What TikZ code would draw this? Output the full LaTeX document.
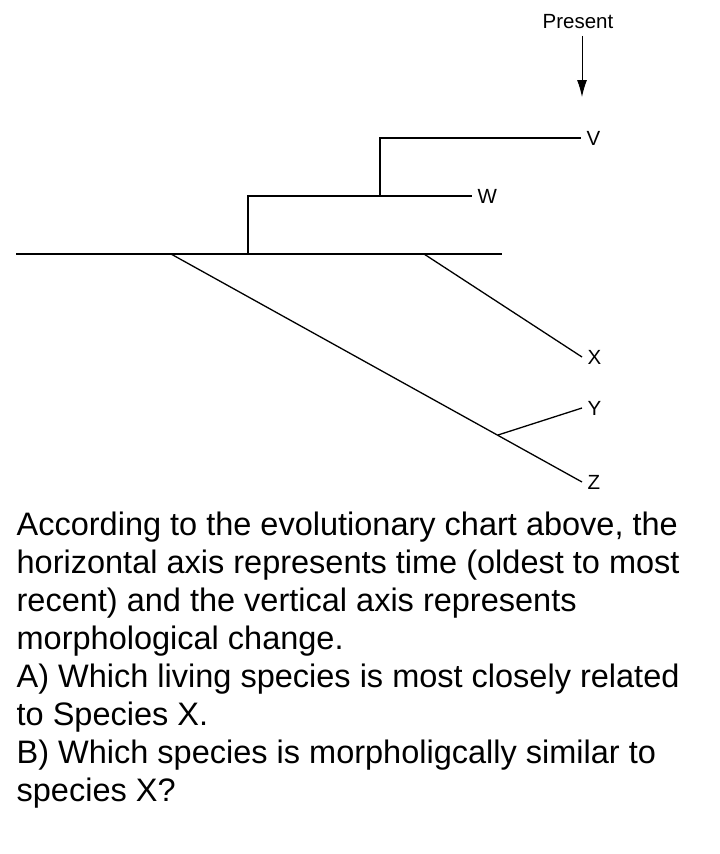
\documentclass[tikz,border=0pt]{standalone}
\usepackage{fontspec}
\setmainfont{Liberation Sans}
\usetikzlibrary{arrows.meta}

\begin{document}
\begin{tikzpicture}[x=1pt, y=-1pt, line width=1.3pt]
		\tikzstyle{every node}=[inner sep=0pt]
		\tikzstyle{tip}=[anchor=west, inner sep=5pt, font=\fontsize{20.5}{24}\selectfont]
		\tikzstyle{question}=[anchor=base west, font=\fontsize{32.5}{38}\selectfont]
		\useasboundingbox (0, 0) rectangle (720, 854);

		% tree
		\coordinate (left) at (16, 254);
		\coordinate (right) at (502, 254);
		\coordinate (forkz) at (171, 254);
		\coordinate (forkx) at (424, 254);
		\coordinate (forkw) at (248, 254);
		\coordinate (kneew) at (248, 196);
		\coordinate (forkv) at (380, 196);
		\coordinate (kneev) at (380, 138);
		\coordinate (forky) at (498, 435);

		\coordinate (tv) at (581, 138);
		\coordinate (tw) at (472, 196);
		\coordinate (tx) at (582, 357);
		\coordinate (ty) at (582, 408);
		\coordinate (tz) at (582, 482);

		\node [tip] (v) at (tv) {V};
		\node [tip] (w) at (tw) {W};
		\node [tip] (x) at (tx) {X};
		\node [tip] (y) at (ty) {Y};
		\node [tip] (z) at (tz) {Z};

		\node [font=\fontsize{20.5}{24}\selectfont] (present) at (578, 22) {Present};
		\coordinate (now) at (582, 97);

		\draw (left) -- (right);
		\draw (forkw) -- (kneew) -- (tw);
		\draw (forkv) -- (kneev) -- (tv);
		\draw (forkx) -- (tx);
		\draw (forkz) -- (tz);
		\draw (forky) -- (ty);
		\draw [-{Latex[length=17pt, width=10pt]}, line width=1pt] (present.south -| now) ++(0, 6) -- (now);

		% question text
		\foreach \ln [count=\i] in {
			{According to the evolutionary chart above, the},
			{horizontal axis represents time (oldest to most},
			{recent) and the vertical axis represents},
			{morphological change.},
			{A) Which living species is most closely related},
			{to Species X.},
			{B) Which species is morpholigcally similar to},
			{species X?}}
			\node [question] (line\i) at (16, 497 + 38*\i) {\ln};
	\end{tikzpicture}
\end{document}
